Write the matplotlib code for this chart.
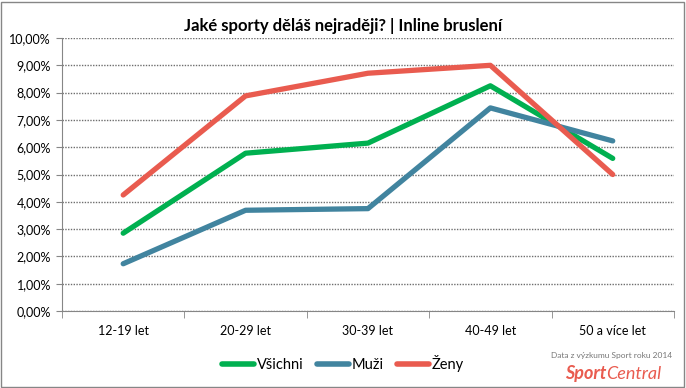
import numpy as np
import matplotlib.pyplot as plt
from matplotlib.ticker import FuncFormatter, FixedLocator
from matplotlib.lines import Line2D
from matplotlib.patches import Rectangle

categories = ['12-19 let', '20-29 let', '30-39 let', '40-49 let', '50 a více let']
vsichni = [2.85, 5.78, 6.15, 8.25, 5.59]
muzi = [1.73, 3.69, 3.75, 7.44, 6.23]
zeny = [4.25, 7.88, 8.71, 9.0, 5.0]

series_names = ['Všichni', 'Muži', 'Ženy']
colors = ['#00B050', '#41849F', '#E95B4F']

plt.rcParams['font.family'] = ['Lato', 'DejaVu Sans']

fig = plt.figure(figsize=(6.86, 3.88), dpi=100)
ax = fig.add_axes([0.0904, 0.1985, 0.892, 0.7035])

x = np.arange(len(categories))
for vals, c in zip([vsichni, muzi, zeny], colors):
    ax.plot(x, vals, color=c, lw=3.8, solid_capstyle='round', solid_joinstyle='round')

ax.set_xlim(-0.5, len(categories) - 0.5)
ax.set_ylim(0, 10)
ax.set_yticks(np.arange(0, 11, 1))
ax.yaxis.set_major_formatter(FuncFormatter(lambda v, p: ('%.2f' % v).replace('.', ',') + '%'))
ax.grid(axis='y', color='#6e6e6e', linestyle=(0, (1, 1)), lw=1)
ax.set_axisbelow(True)

ax.set_xticks(x)
ax.set_xticklabels(categories)
ax.xaxis.set_minor_locator(FixedLocator(np.arange(-0.5, len(categories), 1)))
ax.tick_params(axis='x', which='major', length=0, pad=10, labelsize=9)
ax.tick_params(axis='x', which='minor', length=5, color='#868686')
ax.tick_params(axis='y', length=4, color='#868686', labelsize=9, pad=4)

for s in ['top', 'right']:
    ax.spines[s].set_visible(False)
for s in ['left', 'bottom']:
    ax.spines[s].set_color('#868686')

fig.text(0.5, 0.932, 'Jaké sporty děláš nejraději? | Inline bruslení', ha='center', va='center',
         fontsize=12, fontweight='bold')

handles = [Line2D([0], [0], color=c, lw=4, solid_capstyle='round') for c in colors]
fig.legend(handles, series_names, loc='center', bbox_to_anchor=(0.50, 0.064), ncol=3, frameon=False,
           fontsize=10.5, handlelength=2.2, handletextpad=0.2, columnspacing=0.9)

fig.text(0.98, 0.085, 'Data z výzkumu Sport roku 2014', ha='right', va='center', fontsize=6, color='#777777')
fig.text(0.884, 0.037, 'Sport', ha='right', va='center', fontsize=13, color='#E95B4F',
         fontweight='bold', style='italic')
fig.text(0.884, 0.037, 'Central', ha='left', va='center', fontsize=13, color='#E95B4F', style='italic')

fig.patches.append(Rectangle((0.002, 0.003), 0.995, 0.993, transform=fig.transFigure, fill=False,
                             edgecolor='#868686', lw=1))

fig.savefig('out.png', dpi=100)
